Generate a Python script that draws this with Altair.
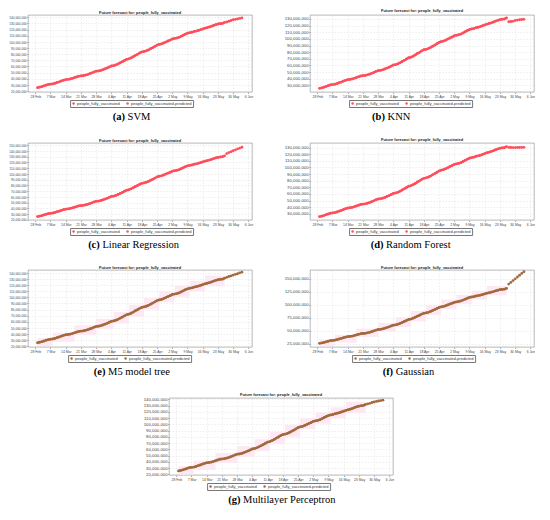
import altair as alt
import pandas as pd

TITLE = "Future forecast for: people_fully_vaccinated"
SERIES = ["people_fully_vaccinated", "people_fully_vaccinated-predicted"]

DATES = pd.date_range("2021-03-01", "2021-05-26", freq="D")
PRED_DATES = pd.date_range("2021-05-27", "2021-06-03", freq="D")
TICK_DATES = pd.date_range("2021-02-28", "2021-06-06", freq="7D")

# people_fully_vaccinated, millions
ACTUAL = [
    25.5, 26.3, 27.2, 28.4, 29.6, 30.7, 31.2, 31.7, 32.6, 33.9,
    35.0, 36.4, 37.6, 38.6, 39.0, 39.6, 40.6, 41.8, 43.0, 44.1,
    44.6, 44.9, 45.9, 46.8, 48.1, 49.5, 51.1, 52.3, 52.6, 53.4, 54.6,
    56.0, 57.4, 59.1, 60.7, 61.3, 62.4, 64.0, 65.9, 67.7, 69.7,
    71.6, 72.4, 73.9, 75.8, 78.0, 79.7, 82.0, 83.6, 84.3, 85.4,
    86.9, 88.9, 90.6, 92.7, 94.8, 95.9, 96.7, 98.1, 99.7, 101.4,
    102.9, 104.7, 105.5, 106.2, 107.3, 109.0, 110.8, 112.6, 114.1, 115.0,
    115.6, 116.9, 117.6, 118.6, 119.8, 121.0, 122.3, 123.2, 124.2, 125.4,
    126.8, 128.0, 129.0, 129.6, 130.0, 131.6,
]

PRED_SVM = [132.3, 133.5, 134.8, 136.0, 136.6, 137.2, 138.2, 139.0]
PRED_KNN = [126.0, 126.2, 126.5, 127.8, 128.3, 128.8, 129.2, 129.5]
PRED_LR = [135.5, 137.2, 138.8, 140.4, 142.0, 143.6, 145.1, 146.6]
PRED_RF = [130.3, 130.2, 130.1, 130.1, 130.2, 130.2, 130.3, 130.4]
PRED_M5 = [132.9, 134.3, 135.3, 136.7, 137.9, 138.9, 140.3, 141.5]
PRED_GAUSS = [139.8, 143.0, 146.6, 149.9, 153.5, 156.8, 160.4, 163.7]
PRED_MLP = [132.6, 133.5, 134.8, 135.6, 136.5, 137.2, 137.9, 138.5]

# pale interval boxes behind the M5 / Gaussian / MLP curves (millions)
BAND_START = ["2021-03-01", "2021-03-08", "2021-03-18", "2021-03-28", "2021-04-05", "2021-04-12",
              "2021-04-19", "2021-04-26", "2021-05-03", "2021-05-10", "2021-05-17"]
BAND_END = ["2021-03-08", "2021-03-18", "2021-03-28", "2021-04-05", "2021-04-12", "2021-04-19",
            "2021-04-26", "2021-05-03", "2021-05-10", "2021-05-17", "2021-05-26"]
BAND_LOW = [20, 27, 38, 48, 57, 68, 80, 92, 101, 110, 118]
BAND_HIGH = [33, 42, 54, 65, 76, 88, 99, 110, 119, 127, 136]

LETTERS = ["(a)", "(b)", "(c)", "(d)", "(e)", "(f)", "(g)"]
NAMES = ["SVM", "KNN", "Linear Regression", "Random Forest", "M5 model tree", "Gaussian",
         "Multilayer Perceptron"]

RED = "#ff4d5b"
BROWN = "#a3693d"
PINK = "#fde8f3"
SANS = "Liberation Sans"
SERIF = "Liberation Serif"

W, H = 224, 77
X_DOMAIN = [alt.DateTime(year=2021, month=2, date=24, hours=16),
            alt.DateTime(year=2021, month=6, date=7, hours=16)]
X_TICKS = [alt.DateTime(year=d.year, month=d.month, date=d.day) for d in TICK_DATES]


def text_width(s, size):
    w = 0.0
    for ch in s:
        if ch == " ":
            w += 0.25
        elif ch in "ilftrj()":
            w += 0.3
        elif ch.isupper():
            w += 0.7
        else:
            w += 0.48
    return w * size


def panel(i, pred, color, ydom, yticks, ylab_size, legend_x, cap_cx, bands=False):
    x_axis = alt.Axis(values=X_TICKS, format="%-d %b", labelFontSize=3.4, labelFont=SANS,
                      labelColor="#444", tickSize=1.5, tickColor="#aaa", labelPadding=1,
                      domain=False, grid=True, gridColor="#dcdcdc", gridDash=[1.5, 1.5],
                      gridWidth=0.5, labelFlush=False)
    y_axis = alt.Axis(values=[v * 1e6 for v in yticks], format=",d", labelFontSize=ylab_size,
                      labelFont=SANS, labelColor="#444", tickSize=1.5, tickColor="#aaa",
                      labelPadding=0.5, domain=False, grid=True, gridColor="#dcdcdc",
                      gridDash=[1.5, 1.5], gridWidth=0.5)
    x_scale = alt.Scale(domain=X_DOMAIN)
    y_scale = alt.Scale(domain=[ydom[0] * 1e6, ydom[1] * 1e6], nice=False, zero=False)

    df = pd.DataFrame({
        "date": list(DATES) + list(PRED_DATES),
        "value": [v * 1e6 for v in ACTUAL + pred],
        "series": [SERIES[0]] * len(ACTUAL) + [SERIES[1]] * len(pred),
    })

    layers = []
    if bands:
        bdf = pd.DataFrame({
            "start": pd.to_datetime(BAND_START),
            "end": pd.to_datetime(BAND_END),
            "low": [v * 1e6 for v in BAND_LOW],
            "high": [v * 1e6 for v in BAND_HIGH],
        })
        layers.append(
            alt.Chart(bdf).mark_rect(color=PINK).encode(
                x=alt.X("start:T", scale=x_scale, axis=x_axis, title=None),
                x2="end:T",
                y=alt.Y("low:Q", scale=y_scale, axis=y_axis, title=None),
                y2="high:Q",
            )
        )

    x = alt.X("date:T", scale=x_scale, axis=x_axis, title=None)
    y = alt.Y("value:Q", scale=y_scale, axis=y_axis, title=None)
    # the observed series reads as a solid trace; the forecast is just its markers
    line = alt.Chart(df).mark_line(strokeWidth=2.2, color=color).encode(
        x=x, y=y).transform_filter(alt.datum.series == SERIES[0])
    pts = alt.Chart(df).mark_circle(size=8, opacity=1).encode(
        x=x, y=y,
        color=alt.Color(
            "series:N",
            scale=alt.Scale(domain=SERIES, range=[color, color]),
            legend=alt.Legend(
                title=None, orient="none", legendX=legend_x, legendY=H + 8,
                direction="horizontal", labelFont=SANS, labelFontSize=4, labelColor="#333",
                symbolType="circle", symbolSize=6, symbolStrokeWidth=0, labelOffset=1.5,
                columnPadding=5, padding=1.5, strokeColor="#777", rowPadding=0,
            ),
        ),
    )
    layers += [line, pts]

    # caption: bold letter + regular name, centred together
    size = 10.5
    wl = text_width(LETTERS[i], size)
    wn = text_width(NAMES[i], size)
    gap = 0.25 * size
    start = cap_cx - (wl + gap + wn) / 2
    cap_y = H + 25
    layers.append(
        alt.Chart(pd.DataFrame({"t": [LETTERS[i]]})).mark_text(
            font=SERIF, fontSize=size, fontWeight="bold", align="right", baseline="middle",
            color="black").encode(x=alt.value(start + wl), y=alt.value(cap_y), text="t:N")
    )
    layers.append(
        alt.Chart(pd.DataFrame({"t": [NAMES[i]]})).mark_text(
            font=SERIF, fontSize=size, align="left", baseline="middle",
            color="black").encode(x=alt.value(start + wl + gap), y=alt.value(cap_y), text="t:N")
    )

    return alt.layer(*layers).properties(
        width=W, height=H,
        title=alt.Title(TITLE, fontSize=3.9, fontWeight="bold", font=SANS, offset=0.5,
                        anchor="middle", color="#222"),
    )


def row(*charts):
    return (alt.hconcat(*charts, spacing=30)
            .resolve_scale(color="independent")
            .resolve_legend(color="independent"))


T10 = list(range(20, 141, 10))
pa = panel(0, PRED_SVM, RED, [18.4, 143.7], T10, 3.1, 42, 103.5)
pb = panel(1, PRED_KNN, RED, [20, 136], list(range(30, 131, 10)), 4.3, 39, 81.5)
pc = panel(2, PRED_LR, RED, [19.5, 154], list(range(20, 151, 10)), 3.1, 42, 107.5)
pd_ = panel(3, PRED_RF, RED, [20.5, 137], list(range(30, 131, 10)), 4.3, 39, 101)
pe = panel(4, PRED_M5, BROWN, [18.5, 145], T10, 3.1, 40, 101.7, bands=True)
pf = panel(5, PRED_GAUSS, BROWN, [18.5, 167], list(range(25, 151, 25)), 4.3, 42, 100, bands=True)
pg = panel(6, PRED_MLP, BROWN, [19, 142], T10, 4.3, 38, 113.5, bands=True)

chart = alt.vconcat(
    row(pa, pb),
    row(pc, pd_),
    row(pe, pf),
    pg,
    spacing=14,
    center=True,
).resolve_scale(color="independent").resolve_legend(color="independent").properties(
    padding={"left": 0, "top": 0, "right": 0, "bottom": 0},
).configure_view(stroke="#888", strokeWidth=0.6)

chart.save("out.html", embed_options={"renderer": "svg", "actions": False})
